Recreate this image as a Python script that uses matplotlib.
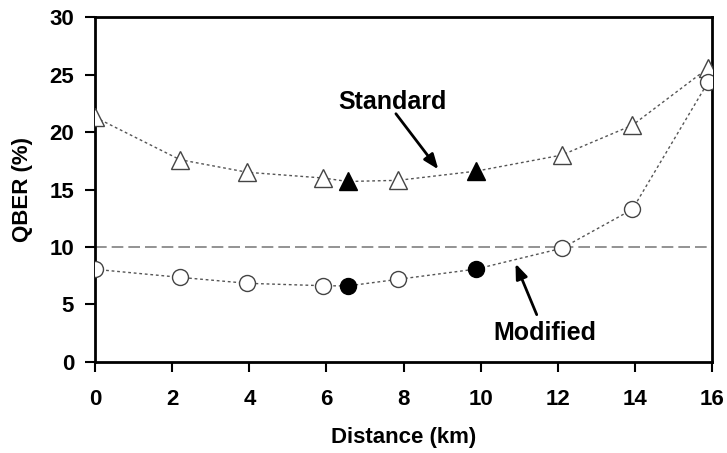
import matplotlib.pyplot as plt

# Data
std_x = [0.0, 2.2, 3.95, 5.92, 6.55, 7.86, 9.88, 12.1, 13.93, 15.9]
std_y = [21.3, 17.6, 16.5, 16.0, 15.7, 15.8, 16.6, 18.0, 20.6, 25.6]
std_filled = [False, False, False, False, True, False, True, False, False, False]

mod_x = [0.0, 2.2, 3.95, 5.92, 6.55, 7.86, 9.88, 12.1, 13.93, 15.9]
mod_y = [8.05, 7.35, 6.83, 6.62, 6.6, 7.18, 8.07, 9.88, 13.27, 24.4]
mod_filled = [False, False, False, False, True, False, True, False, False, False]

threshold = 10
x_ticks = [0, 2, 4, 6, 8, 10, 12, 14, 16]
y_ticks = [0, 5, 10, 15, 20, 25, 30]

plt.rcParams["font.family"] = ["Liberation Sans", "DejaVu Sans"]
plt.rcParams["font.weight"] = "bold"

fig = plt.figure(figsize=(7.27, 4.53), dpi=100)
ax = fig.add_axes([0.1307, 0.2015, 0.849, 0.7603])

ax.axhline(threshold, color="#808080", lw=1.2, ls=(0, (7, 3)), zorder=1)

for xs, ys, filled, marker in [(std_x, std_y, std_filled, "^"), (mod_x, mod_y, mod_filled, "o")]:
    ax.plot(xs, ys, ls=(0, (2, 2)), color="#555555", lw=1, zorder=2)
    for x, y, f in zip(xs, ys, filled):
        ax.plot(x, y, marker=marker, ms=12.5 if marker == "^" else 11.5,
                mfc="black" if f else "white", mec="black" if f else "#444444",
                mew=1, ls="none", zorder=3)

arrow = dict(arrowstyle="-|>,head_width=0.35,head_length=0.9", lw=2, color="black",
             shrinkA=0, shrinkB=0)
ax.text(7.7, 22.6, "Standard", fontsize=18, fontweight="bold", ha="center", va="center")
ax.annotate("", xy=(8.9, 16.75), xytext=(7.8, 21.6), arrowprops=arrow)
ax.text(11.65, 2.5, "Modified", fontsize=18, fontweight="bold", ha="center", va="center")
ax.annotate("", xy=(10.9, 8.55), xytext=(11.45, 4.1), arrowprops=arrow)

ax.set_xlim(0, 16)
ax.set_ylim(0, 30)
ax.set_xticks(x_ticks)
ax.set_yticks(y_ticks)
ax.tick_params(labelsize=16, width=1.5, length=7)
ax.tick_params(axis="x", pad=13)
ax.tick_params(axis="y", pad=8)
for s in ax.spines.values():
    s.set_linewidth(2)
ax.set_xlabel("Distance (km)", fontsize=16, fontweight="bold", labelpad=12)
ax.set_ylabel("QBER (%)", fontsize=16, fontweight="bold", labelpad=12)

fig.savefig("out.png", dpi=100)
